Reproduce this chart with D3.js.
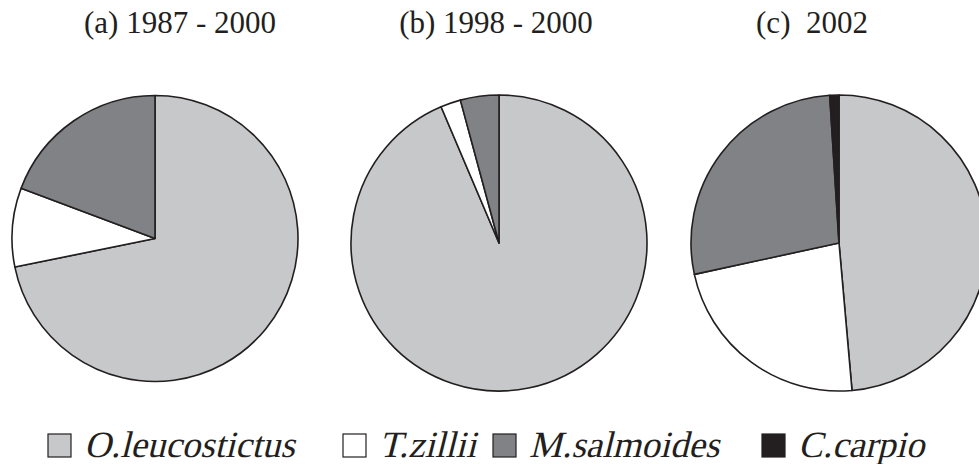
<!DOCTYPE html>
<html lang="en">
<head>
<meta charset="UTF-8">
<title>Fish composition pies</title>
<script src="https://d3js.org/d3.v7.min.js"></script>
<style>
  body { margin: 0; background: #fff; }
  svg text { white-space: pre; }
</style>
</head>
<body>
<div id="chart"></div>
<script>
// species and their shares (%) in each period
const species = ["O.leucostictus", "T.zillii", "M.salmoides", "C.carpio"];
const colors = ["#c7c8ca", "#ffffff", "#808285", "#231f20"];
const titles = ["(a) 1987 - 2000", "(b) 1998 - 2000", "(c)  2002"];
const periodA = [71.8, 8.9, 19.3, 0];
const periodB = [93.6, 2.2, 4.2, 0];
const periodC = [48.6, 23.0, 27.4, 1.0];

const width = 979, height = 464;
const serif = "Liberation Serif";

const svg = d3.select("#chart")
  .append("svg")
    .attr("width", width)
    .attr("height", height)
    .attr("font-family", serif);

const color = d3.scaleOrdinal().domain(species).range(colors);

// layout of the three panels
const panels = [
  {values: periodA, cx: 155, cy: 238.5, r: 143, tx: 180},
  {values: periodB, cx: 499, cy: 243, r: 148, tx: 496},
  {values: periodC, cx: 839, cy: 243, r: 148, tx: 812}
];

const pie = d3.pie().sort(null).value(d => d.value);

panels.forEach((p, i) => {
  const data = species.map((s, j) => ({name: s, value: p.values[j]}));
  const arc = d3.arc().innerRadius(0).outerRadius(p.r);
  const g = svg.append("g").attr("transform", `translate(${p.cx},${p.cy})`);

  g.selectAll("path")
    .data(pie(data).filter(d => d.data.value > 0))
    .join("path")
      .attr("d", arc)
      .attr("fill", d => color(d.data.name))
      .attr("stroke", "#231f20")
      .attr("stroke-width", 1.6)
      .attr("stroke-linejoin", "round");

  svg.append("text")
    .attr("x", p.tx)
    .attr("y", 33)
    .attr("text-anchor", "middle")
    .attr("font-size", 31)
    .attr("fill", "#231f20")
    .text(titles[i]);
});

// legend
const legendX = [48, 343, 493, 762];
const legend = svg.selectAll("g.legend")
  .data(species)
  .join("g")
    .attr("class", "legend")
    .attr("transform", (d, i) => `translate(${legendX[i]},434)`);

legend.append("rect")
  .attr("width", 23)
  .attr("height", 23)
  .attr("fill", d => color(d))
  .attr("stroke", "#231f20")
  .attr("stroke-width", 1.2);

// no italic face of the serif is installed, so slant the roman one
legend.append("g")
    .attr("transform", "translate(36,23) skewX(-14)")
  .append("text")
    .attr("font-size", 37)
    .attr("fill", "#231f20")
    .text(d => d);
</script>
</body>
</html>
